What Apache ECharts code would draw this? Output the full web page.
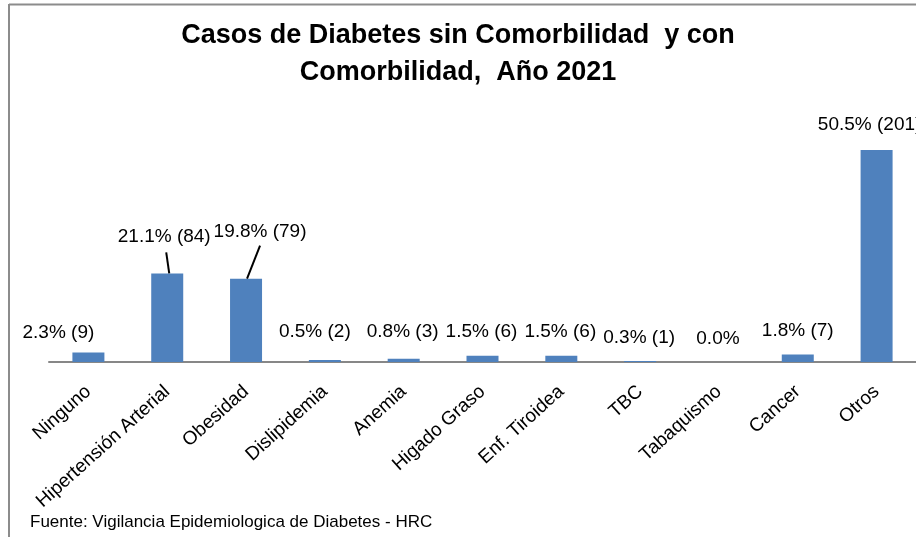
<!DOCTYPE html>
<html>
<head>
<meta charset="utf-8">
<script src="https://cdn.jsdelivr.net/npm/echarts@6/dist/echarts.min.js"></script>
<style>
html,body{margin:0;padding:0;background:#fff;}
#chart{width:916px;height:537px;}
</style>
</head>
<body>
<div id="chart"></div>
<script>
const categories = ["Ninguno","Hipertensión Arterial","Obesidad","Dislipidemia","Anemia","Higado Graso","Enf. Tiroidea","TBC","Tabaquismo","Cancer","Otros"];
const counts = [9,84,79,2,3,6,6,1,0,7,201];
const percents = [2.3,21.1,19.8,0.5,0.8,1.5,1.5,0.3,0.0,1.8,50.5];
const titleText = "Casos de Diabetes sin Comorbilidad  y con\nComorbilidad,  Año 2021";
const sourceText = "Fuente: Vigilancia Epidemiologica de Diabetes - HRC";

// label displacement in px (style only)
const labelShift = [[-30,-5],[-3,-22],[14,-32],[-10,-14],[-1,-13],[-1,-9],[-1,-9],[-1,-9],[-1,-9],[0,-9],[-7,-11]];
// leader line style: [bottom dx, top dx, top dy] relative to bar top centre, px
const leaderStyle = {1: [2, -1, -21], 2: [1, 14, -33]};

const FONT = "'Liberation Sans', Arial, sans-serif";
const leaderData = Object.keys(leaderStyle).map(k => [Number(k), counts[Number(k)]]);

const chart = echarts.init(document.getElementById('chart'));
chart.setOption({
  animation: false,
  backgroundColor: '#fff',
  title: {
    text: titleText,
    left: 'center',
    top: 12,
    textStyle: {fontFamily: FONT, fontSize: 27, fontWeight: 'bold', color: '#000', lineHeight: 37}
  },
  graphic: [
    {type:'line', shape:{x1:9, y1:4.5, x2:916, y2:4.5}, style:{stroke:'#8c8c8c', lineWidth:2}},
    {type:'line', shape:{x1:9, y1:4, x2:9, y2:537}, style:{stroke:'#8c8c8c', lineWidth:2}},
    {type:'text', left:30, top:514, style:{text: sourceText, font: "17px " + FONT, fill:'#000'}}
  ],
  grid: {left: 49, top: 150, width: 876, height: 212, containLabel: false},
  xAxis: {
    type: 'category',
    data: categories,
    axisLine: {lineStyle: {color: '#878787', width: 2}},
    axisTick: {show: false},
    axisLabel: {interval: 0, rotate: 42, fontFamily: FONT, fontSize: 19, color: '#000', margin: 27}
  },
  yAxis: {type: 'value', min: 0, max: 201, show: false, splitLine: {show: false}},
  series: [{
    type: 'bar',
    barWidth: 32,
    itemStyle: {color: '#4F81BD'},
    data: counts,
    label: {
      show: true,
      position: 'top',
      distance: 5,
      fontFamily: FONT,
      fontSize: 19,
      color: '#000',
      formatter: p => counts[p.dataIndex] > 0
        ? percents[p.dataIndex].toFixed(1) + '% (' + counts[p.dataIndex] + ')'
        : percents[p.dataIndex].toFixed(1) + '%'
    },
    labelLayout: p => ({dx: labelShift[p.dataIndex][0], dy: labelShift[p.dataIndex][1]})
  }, {
    type: 'custom',
    data: leaderData,
    silent: true,
    z: 5,
    renderItem: (params, api) => {
      const idx = api.value(0);
      const pt = api.coord([idx, api.value(1)]);
      const s = leaderStyle[idx];
      return {
        type: 'line',
        shape: {x1: pt[0] + s[0], y1: pt[1], x2: pt[0] + s[1], y2: pt[1] + s[2]},
        style: {stroke: '#000', lineWidth: 2}
      };
    }
  }]
});
</script>
</body>
</html>
